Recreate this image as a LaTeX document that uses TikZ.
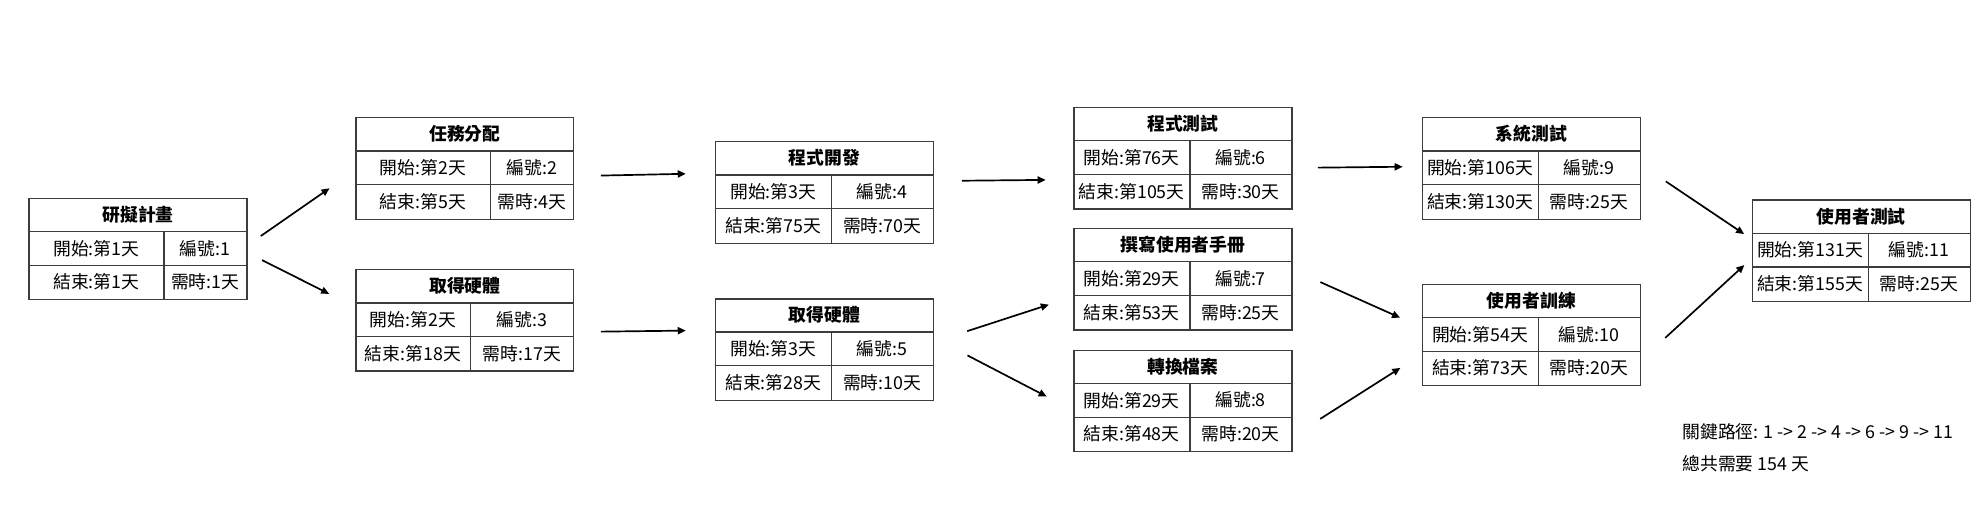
\documentclass[tikz,border=0pt]{standalone}
\usepackage{fontspec}
\setmainfont{Noto Sans CJK TC}
\usetikzlibrary{positioning, calc, arrows.meta}
\definecolor{pmLine}{RGB}{60,60,60}

\newcommand{\taskbox}[8]{%
  \node[task] (#1) at (#2) {};
  \draw[cell] ($(#1.north west)+(0,80/3)$) -- ($(#1.north east)+(0,80/3)$);
  \draw[cell] ($(#1.north west)+(0,160/3)$) -- ($(#1.north east)+(0,160/3)$);
  \draw[cell] ($(#1.north west)+(#3,80/3)$) -- ($(#1.south west)+(#3,0)$);
  \node[head] (#1-name) at ($(#1.north)+(0,40/3)$) {#4};
  \node[txt] (#1-start) at ($(#1.north west)+(#3/2,40)$) {開始:第#5天};
  \node[txt] (#1-id) at ($(#1.north west)+(86+#3/2,40)$) {編號:#6};
  \node[txt] (#1-end) at ($(#1.north west)+(#3/2,200/3)$) {結束:第#7天};
  \node[txt] (#1-dur) at ($(#1.north west)+(86+#3/2,200/3)$) {需時:#8天};
}

\begin{document}
\begin{tikzpicture}[
  x=0.025cm, y=-0.025cm,
  task/.style={draw=pmLine, line width=0.7pt, minimum width=4.3cm, minimum height=2cm, inner sep=0pt},
  cell/.style={pmLine, line width=0.7pt},
  txt/.style={inner sep=0pt, font=\fontsize{10}{12}\selectfont},
  head/.style={inner sep=0pt, font=\fontsize{10}{12}\selectfont\bfseries},
  arrow/.style={-{Triangle[length=4.5pt, width=4pt]}, line width=0.95pt, black}
]
  \useasboundingbox (0,0) rectangle (1568,408.2);

  \taskbox{p1}{109,196.6}{107}{研擬計畫}{1}{1}{1}{1}
  \taskbox{p2}{367,133}{107}{任務分配}{2}{2}{5}{4}
  \taskbox{p3}{367,253}{91}{取得硬體}{2}{3}{18}{17}
  \taskbox{p4}{651,152}{92}{程式開發}{3}{4}{75}{70}
  \taskbox{p5}{651,276}{92}{取得硬體}{3}{5}{28}{10}
  \taskbox{p6}{934,125}{92}{程式測試}{76}{6}{105}{30}
  \taskbox{p7}{934,220.5}{92}{撰寫使用者手冊}{29}{7}{53}{25}
  \taskbox{p8}{934,316.5}{92}{轉換檔案}{29}{8}{48}{20}
  \taskbox{p9}{1209,133}{92}{系統測試}{106}{9}{130}{25}
  \taskbox{p10}{1209,264.5}{92}{使用者訓練}{54}{10}{73}{20}
  \taskbox{p11}{1469.5,197.9}{92}{使用者測試}{131}{11}{155}{25}

  \node[txt, anchor=west] (path) at (1328,340.8) {關鍵路徑: 1 -> 2 -> 4 -> 6 -> 9 -> 11};
  \node[txt, anchor=west] (total) at (1328,365.8) {總共需要 154 天};

  \draw[arrow, shorten <=9pt, shorten >=17.6pt] (p1.2) -- (p2.181);
  \draw[arrow, shorten <=9.1pt, shorten >=16.4pt] (p1.358.5) -- (p3.173.8);
  \draw[arrow, shorten <=14.9pt, shorten >=16.4pt] (p2.356.7) -- (p4.170.75);
  \draw[arrow, shorten <=14.9pt, shorten >=16.4pt] (p3.354) -- (p5.170.75);
  \draw[arrow, shorten <=15.6pt, shorten >=15.6pt] (p4.6.6) -- (p6.191.2);
  \draw[arrow, shorten <=19.5pt, shorten >=14.5pt] (p5.4.3) -- (p7.189.05);
  \draw[arrow, shorten <=21.1pt, shorten >=16.9pt] (p5.6.2) -- (p8.185.5);
  \draw[arrow, shorten <=14.2pt, shorten >=10.7pt] (p6.355.6) -- (p9.179);
  \draw[arrow, shorten <=17.1pt, shorten >=13.3pt] (p7.5.2) -- (p10.176.1);
  \draw[arrow, shorten <=18.4pt, shorten >=14.2pt] (p8.342.6) -- (p10.190.6);
  \draw[arrow, shorten <=16.9pt, shorten >=5.1pt] (p9.2.9) -- (p11.174.5);
  \draw[arrow, shorten <=18.6pt, shorten >=5.6pt] (p10.347.7) -- (p11.184.5);
\end{tikzpicture}
\end{document}
